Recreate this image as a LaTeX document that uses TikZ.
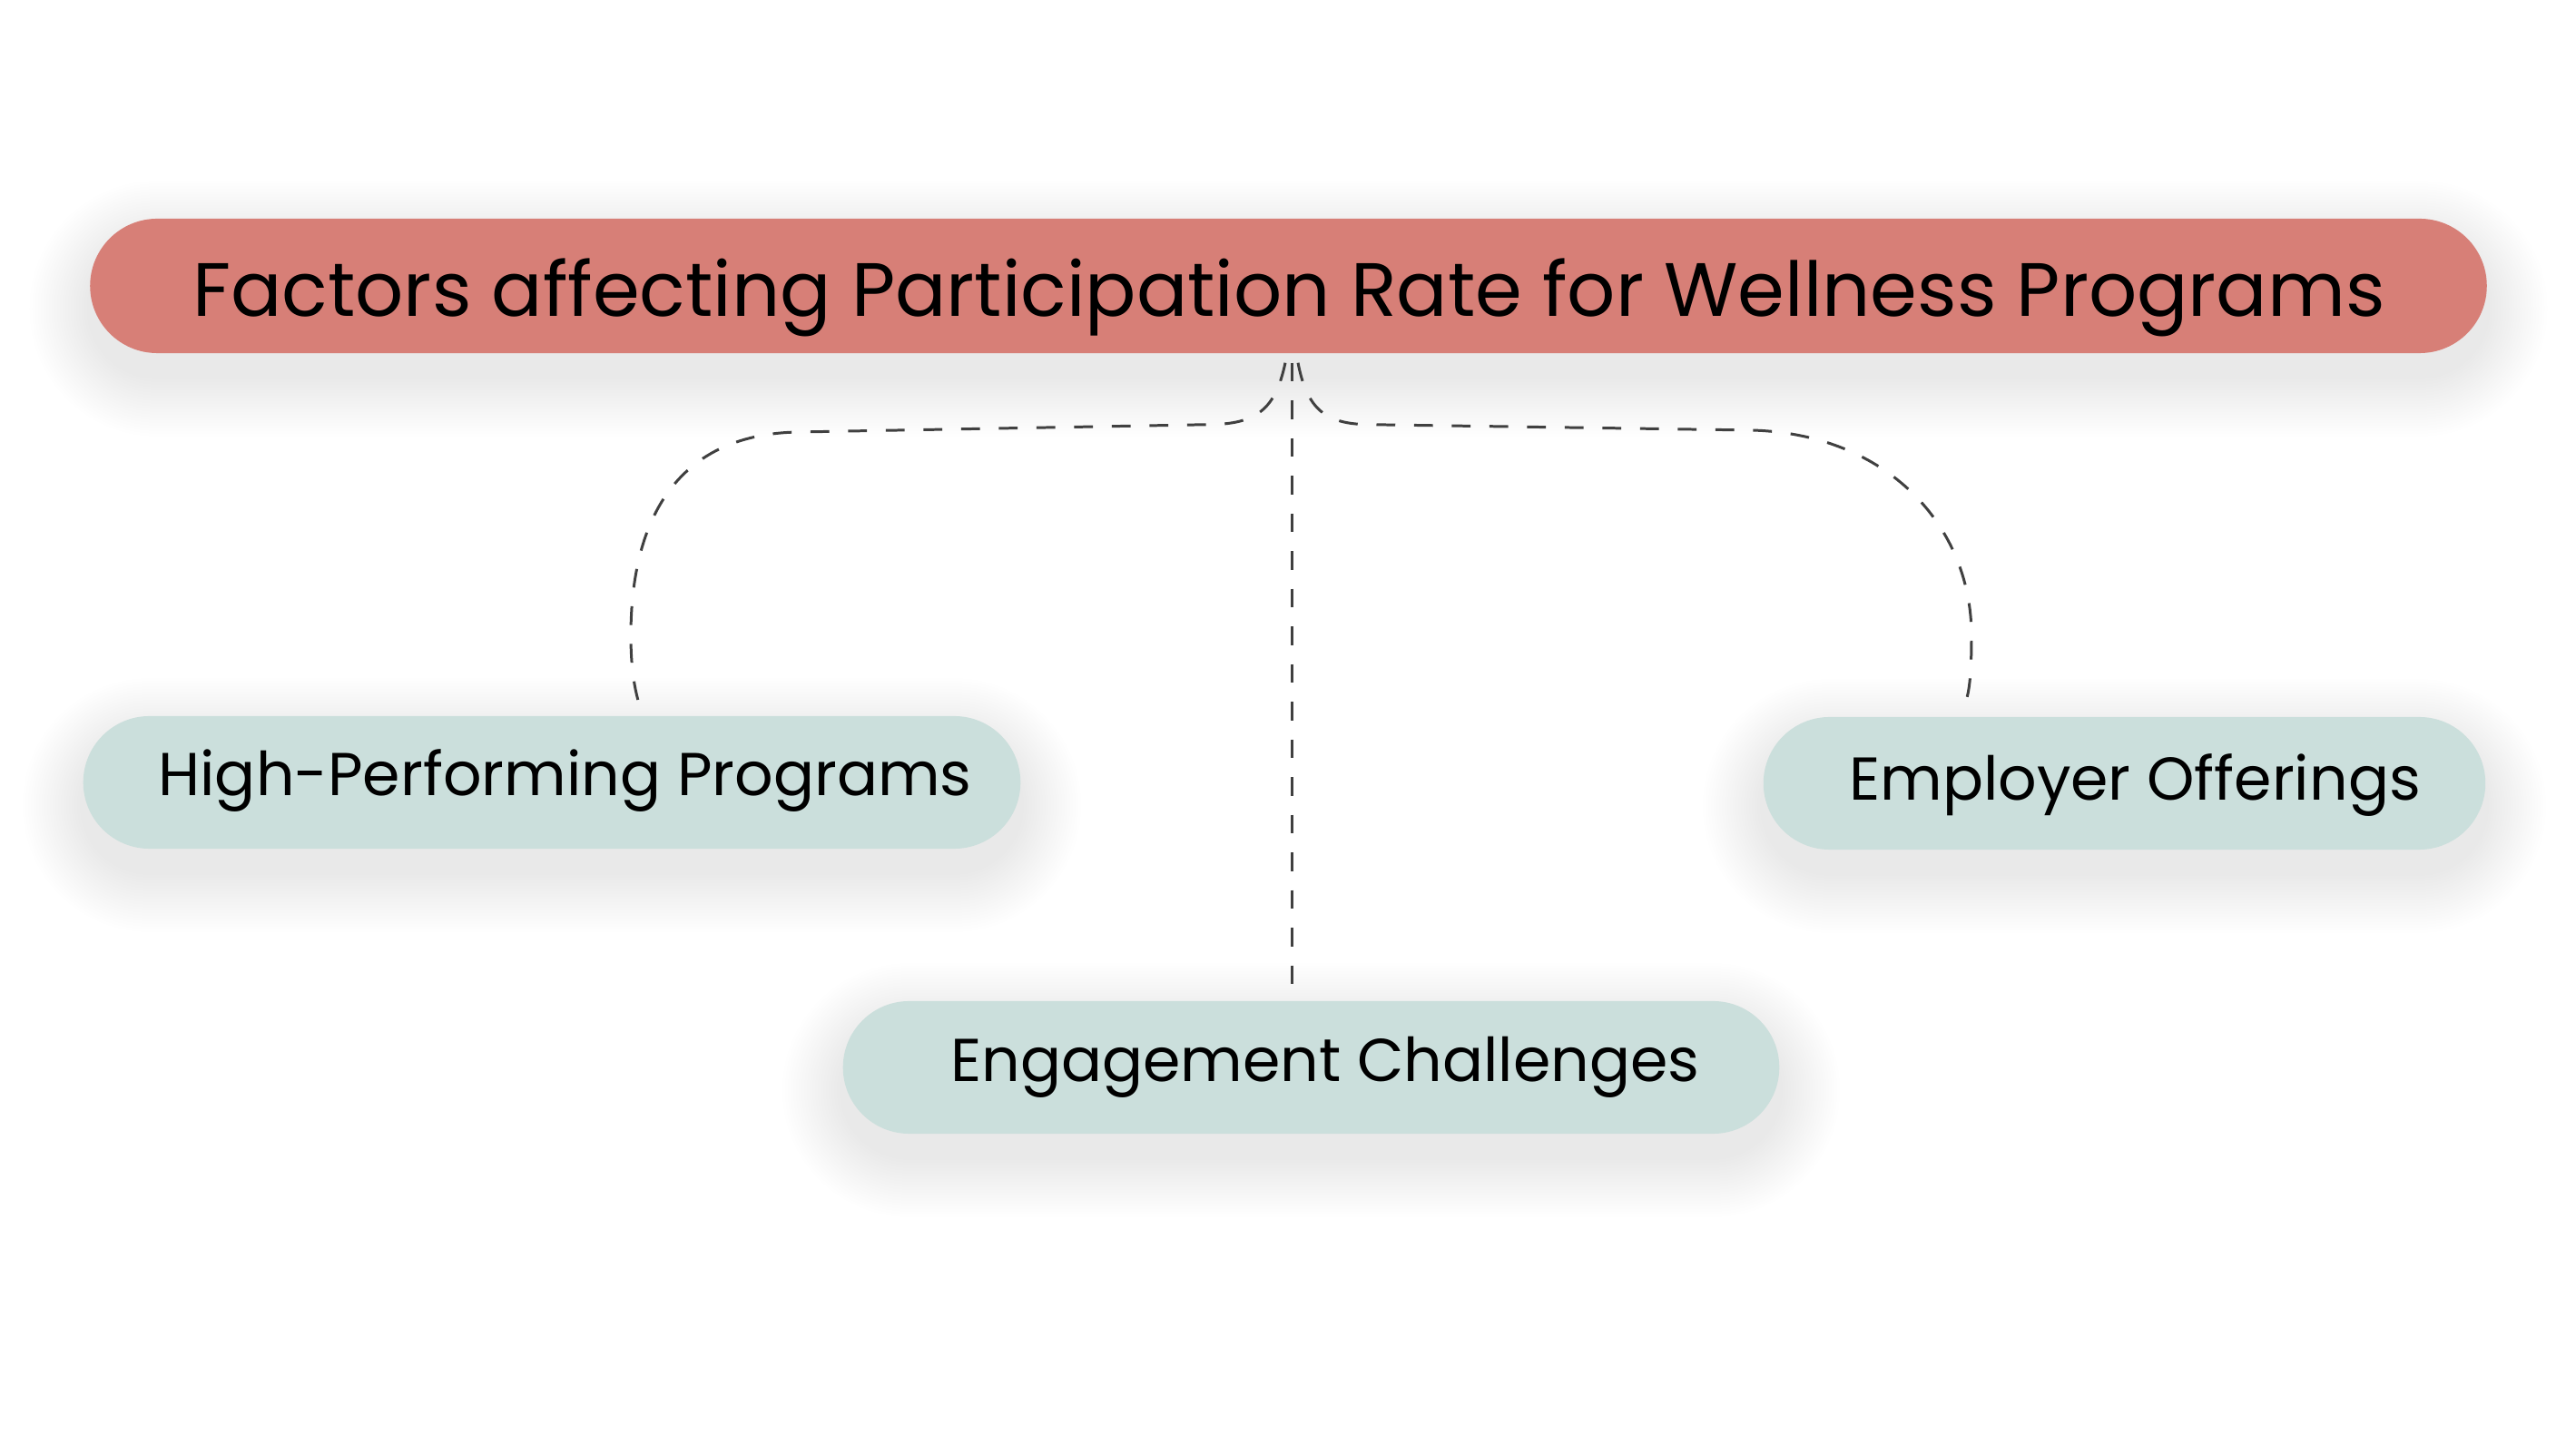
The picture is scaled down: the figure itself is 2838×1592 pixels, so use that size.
\documentclass[tikz,border=0pt]{standalone}
\usepackage{fontspec}
\setmainfont{Poppins}
\usetikzlibrary{backgrounds}
\definecolor{titlefill}{RGB}{215,127,119}
\definecolor{subfill}{RGB}{203,223,220}
\definecolor{linkcol}{RGB}{64,64,64}
\tikzset{
  titlebox/.style={rectangle, rounded corners=0.74cm, fill=titlefill, draw=none, minimum height=1.48cm, inner sep=0pt},
  subbox/.style={rectangle, rounded corners=0.73cm, fill=subfill, draw=none, minimum height=1.46cm, inner sep=0pt},
  titletext/.style={inner sep=0pt, anchor=base, font=\fontsize{23.7pt}{28pt}\selectfont, text=black},
  subtext/.style={inner sep=0pt, anchor=base, font=\fontsize{18.95pt}{23pt}\selectfont, text=black},
  link/.style={draw=linkcol, line width=0.85pt, dash pattern=on 5.9pt off 5.9pt},
  shadowlayer/.style={fill=black, fill opacity=0.0045, draw=none}
}
\begin{document}
\begin{tikzpicture}[x=0.01cm, y=-0.01cm]
\useasboundingbox (0,0) rectangle (2838,1592);
% boxes
\node[titlebox, minimum width=26.39cm] (title) at (1419.5,315) {};
\node[subbox, minimum width=10.32cm] (hp) at (608,862) {};
\node[subbox, minimum width=7.95cm] (eo) at (2340.5,863) {};
\node[subbox, minimum width=10.31cm] (ec) at (1444.5,1176) {};
% soft shadows
\begin{pgfonlayer}{background}
\fill[white] (0,0) rectangle (2838,1592);
\foreach \n/\r in {title/0.74, hp/0.73, eo/0.73, ec/0.73} {
  \foreach \k in {1,...,22} {
    \fill[shadowlayer, rounded corners={(\r+\k*0.03)*1cm}]
      ([xshift=-\k*0.03cm, yshift=-0.25cm-\k*0.03cm]\n.south west)
      rectangle ([xshift=\k*0.03cm, yshift=-0.25cm+\k*0.03cm]\n.north east);
  }
}
\end{pgfonlayer}
% texts
\node[titletext] (titlet) at (1420,349) {Factors affecting Participation Rate for Wellness Programs};
\node[subtext] (hpt) at (622.5,877) {High-Performing Programs};
\node[subtext] (eot) at (2352,882) {Employer Offerings};
\node[subtext] (ect) at (1460,1192) {Engagement Challenges};
% connector end points
\coordinate (sl) at ([xshift=-0.035cm, yshift=-0.10cm]title.south);
\coordinate (sc) at ([xshift=0.035cm, yshift=-0.10cm]title.south);
\coordinate (sr) at ([xshift=0.105cm, yshift=-0.10cm]title.south);
\coordinate (el) at ([xshift=0.99cm, yshift=0.04cm]hp.north);
\coordinate (er) at ([xshift=-1.745cm, yshift=0.17cm]eo.north);
\coordinate (ec0) at ([xshift=-0.215cm, yshift=0.16cm]ec.north);
% connectors
\draw[link] (sc) -- (sc |- ec0);
\draw[link] (sl) .. controls +(-11,51) and +(55,0) .. ++(-86,68)
  -- (880,476) .. controls (740,478) and (695,580) .. (695,700)
  .. controls (695,740) and (700,765) .. (el);
\draw[link] (sr) .. controls +(10,51) and +(-50,0) .. ++(80,68)
  -- (1930,474) .. controls (2080,478) and (2172,580) .. (2172,700)
  .. controls (2172,740) and (2170,760) .. (er);
\end{tikzpicture}
\end{document}
